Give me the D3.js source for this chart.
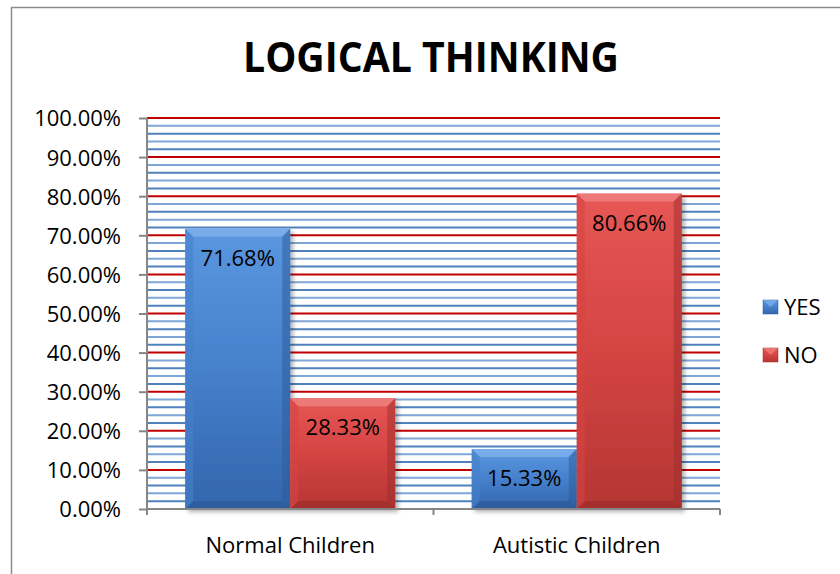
<!DOCTYPE html>
<html>
<head>
<meta charset="utf-8">
<script src="https://cdn.jsdelivr.net/npm/d3@7"></script>
<style>
  body { margin: 0; background: #fff; }
  svg text { font-family: 'Open Sans', 'Noto Sans', sans-serif; fill: #000; }
</style>
</head>
<body>
<div id="chart"></div>
<script>
const categories = ['Normal Children', 'Autistic Children'];
const seriesNames = ['YES', 'NO'];
const yesValues = [71.68, 15.33];
const noValues = [28.33, 80.66];
const yTickValues = [0, 10, 20, 30, 40, 50, 60, 70, 80, 90, 100];

const width = 840, height = 574;
const margin = { top: 118, right: 120, bottom: 65, left: 147 };
const plotW = width - margin.left - margin.right; // 573
const plotH = height - margin.top - margin.bottom; // 391
const fs = 22;

const colors = {
	YES: { top: '#5a97e0', mid: '#4680cc', bot: '#3366ac', light: '#7fb0ec', dark: '#2c5a98' },
	NO: { top: '#e65755', mid: '#d44442', bot: '#b53634', light: '#ef8381', dark: '#9c2d2b' },
};

const svg = d3.select('#chart').append('svg')
	.attr('width', width)
	.attr('height', height);

const defs = svg.append('defs');
seriesNames.forEach((s) => {
	const g = defs.append('linearGradient').attr('id', 'grad' + s)
		.attr('x1', 0).attr('y1', 0).attr('x2', 0).attr('y2', 1);
	g.append('stop').attr('offset', '0%').attr('stop-color', colors[s].top);
	g.append('stop').attr('offset', '50%').attr('stop-color', colors[s].mid);
	g.append('stop').attr('offset', '100%').attr('stop-color', colors[s].bot);
});
const shadow = defs.append('filter').attr('id', 'shadow')
	.attr('x', '-10%').attr('y', '-10%').attr('width', '130%').attr('height', '130%');
shadow.append('feDropShadow').attr('dx', 3).attr('dy', 3).attr('stdDeviation', 2)
	.attr('flood-color', '#000').attr('flood-opacity', 0.3);

// chart border
svg.append('rect')
	.attr('x', 11.5).attr('y', 7.5)
	.attr('width', 840).attr('height', 600)
	.attr('fill', 'none').attr('stroke', '#8c8c8c').attr('stroke-width', 1.5);

// title
svg.append('text')
	.attr('x', 431).attr('y', 72)
	.attr('text-anchor', 'middle')
	.attr('font-size', 42).attr('font-weight', 'bold')
	.attr('textLength', 376).attr('lengthAdjust', 'spacingAndGlyphs')
	.text('LOGICAL THINKING');

const g = svg.append('g').attr('transform', `translate(${margin.left},${margin.top})`);

const y = d3.scaleLinear().domain([0, 100]).range([plotH, 0]);
const x0 = d3.scaleBand().domain(categories).range([0, plotW]);
const x1 = d3.scaleBand().domain(seriesNames).range([0, x0.bandwidth()])
	.paddingInner(0).paddingOuter(0.364);

// gridlines: blue minor every 2%, red major every 10%
const minor = d3.range(2, 100, 2).filter((v) => v % 10 !== 0);
g.append('g').selectAll('line')
	.data(minor)
	.join('line')
	.attr('x1', 0).attr('x2', plotW)
	.attr('y1', (d) => y(d)).attr('y2', (d) => y(d))
	.attr('stroke', (d, i) => (i % 2 === 0 ? '#4f81bd' : '#7ea6d6'))
	.attr('stroke-width', 2);
g.append('g').selectAll('line')
	.data(yTickValues.filter((v) => v > 0))
	.join('line')
	.attr('x1', 0).attr('x2', plotW)
	.attr('y1', (d) => y(d)).attr('y2', (d) => y(d))
	.attr('stroke', '#c00000')
	.attr('stroke-width', 2);

// bars
const rows = categories.map((c, i) => ({ cat: c, values: [
	{ s: 'YES', v: yesValues[i] },
	{ s: 'NO', v: noValues[i] },
] }));

const bev = 8;
const groups = g.selectAll('.grp').data(rows).join('g')
	.attr('transform', (d) => `translate(${x0(d.cat)},0)`);
const bars = groups.selectAll('.bar').data((d) => d.values).join('g').attr('class', 'bar');
bars.append('rect')
	.attr('x', (d) => x1(d.s))
	.attr('y', (d) => y(d.v))
	.attr('width', x1.bandwidth())
	.attr('height', (d) => plotH - y(d.v))
	.attr('fill', (d) => `url(#grad${d.s})`)
	.attr('filter', 'url(#shadow)');
// bevel: top, bottom, sides
bars.append('polygon')
	.attr('points', (d) => {
		const x = x1(d.s), w = x1.bandwidth(), t = y(d.v);
		return [[x, t], [x + w, t], [x + w - bev, t + bev], [x + bev, t + bev]].join(' ');
	})
	.attr('fill', (d) => colors[d.s].light).attr('opacity', 0.8);
bars.append('polygon')
	.attr('points', (d) => {
		const x = x1(d.s), w = x1.bandwidth(), b = plotH;
		return [[x, b], [x + w, b], [x + w - bev, b - bev], [x + bev, b - bev]].join(' ');
	})
	.attr('fill', (d) => colors[d.s].dark).attr('opacity', 0.7);
bars.append('polygon')
	.attr('points', (d) => {
		const x = x1(d.s), t = y(d.v), b = plotH;
		return [[x, t], [x + bev, t + bev], [x + bev, b - bev], [x, b]].join(' ');
	})
	.attr('fill', (d) => colors[d.s].mid).attr('opacity', 0.6);
bars.append('polygon')
	.attr('points', (d) => {
		const x = x1(d.s) + x1.bandwidth(), t = y(d.v), b = plotH;
		return [[x, t], [x - bev, t + bev], [x - bev, b - bev], [x, b]].join(' ');
	})
	.attr('fill', (d) => colors[d.s].dark).attr('opacity', 0.5);

bars.append('text')
	.attr('x', (d) => x1(d.s) + x1.bandwidth() / 2)
	.attr('y', (d) => y(d.v) + 37)
	.attr('text-anchor', 'middle')
	.attr('font-size', fs)
	.text((d) => d.v.toFixed(2) + '%');

// axes
const yAxis = g.append('g')
	.call(d3.axisLeft(y).tickValues(yTickValues).tickSize(8).tickPadding(18)
		.tickFormat((d) => d.toFixed(2) + '%'));
yAxis.selectAll('line, path').attr('stroke', '#868686').attr('stroke-width', 2);
yAxis.select('.domain').attr('d', `M0,${plotH + 6}V0`);
yAxis.selectAll('text').attr('font-size', fs).attr('dy', '0.36em')
	.style('font-family', "'Open Sans', sans-serif");

const xAxis = g.append('g').attr('transform', `translate(0,${plotH})`)
	.call(d3.axisBottom(x0).tickSize(0).tickPadding(28));
xAxis.select('.domain').attr('stroke', '#868686').attr('stroke-width', 2).attr('d', `M0,0H${plotW}`);
xAxis.selectAll('text').attr('font-size', fs).style('font-family', "'Open Sans', sans-serif");
xAxis.append('g').selectAll('line')
	.data([0, x0.bandwidth(), plotW])
	.join('line')
	.attr('x1', (d) => d).attr('x2', (d) => d)
	.attr('y1', 0).attr('y2', 6)
	.attr('stroke', '#868686').attr('stroke-width', 2);

// legend
const legend = svg.append('g').attr('transform', 'translate(763,300)');
const li = legend.selectAll('g').data(seriesNames).join('g')
	.attr('transform', (d, i) => `translate(0,${i * 48})`);
li.append('rect')
	.attr('width', 15).attr('height', 14)
	.attr('fill', (d) => `url(#grad${d})`)
	.attr('stroke', (d) => colors[d].dark).attr('stroke-width', 0.5);
li.append('polygon')
	.attr('points', '0,0 15,0 7.5,7')
	.attr('fill', (d) => colors[d].light).attr('opacity', 0.7);
li.append('text')
	.attr('x', 21).attr('y', 7).attr('dy', '0.36em')
	.attr('font-size', fs)
	.text((d) => d);
</script>
</body>
</html>
